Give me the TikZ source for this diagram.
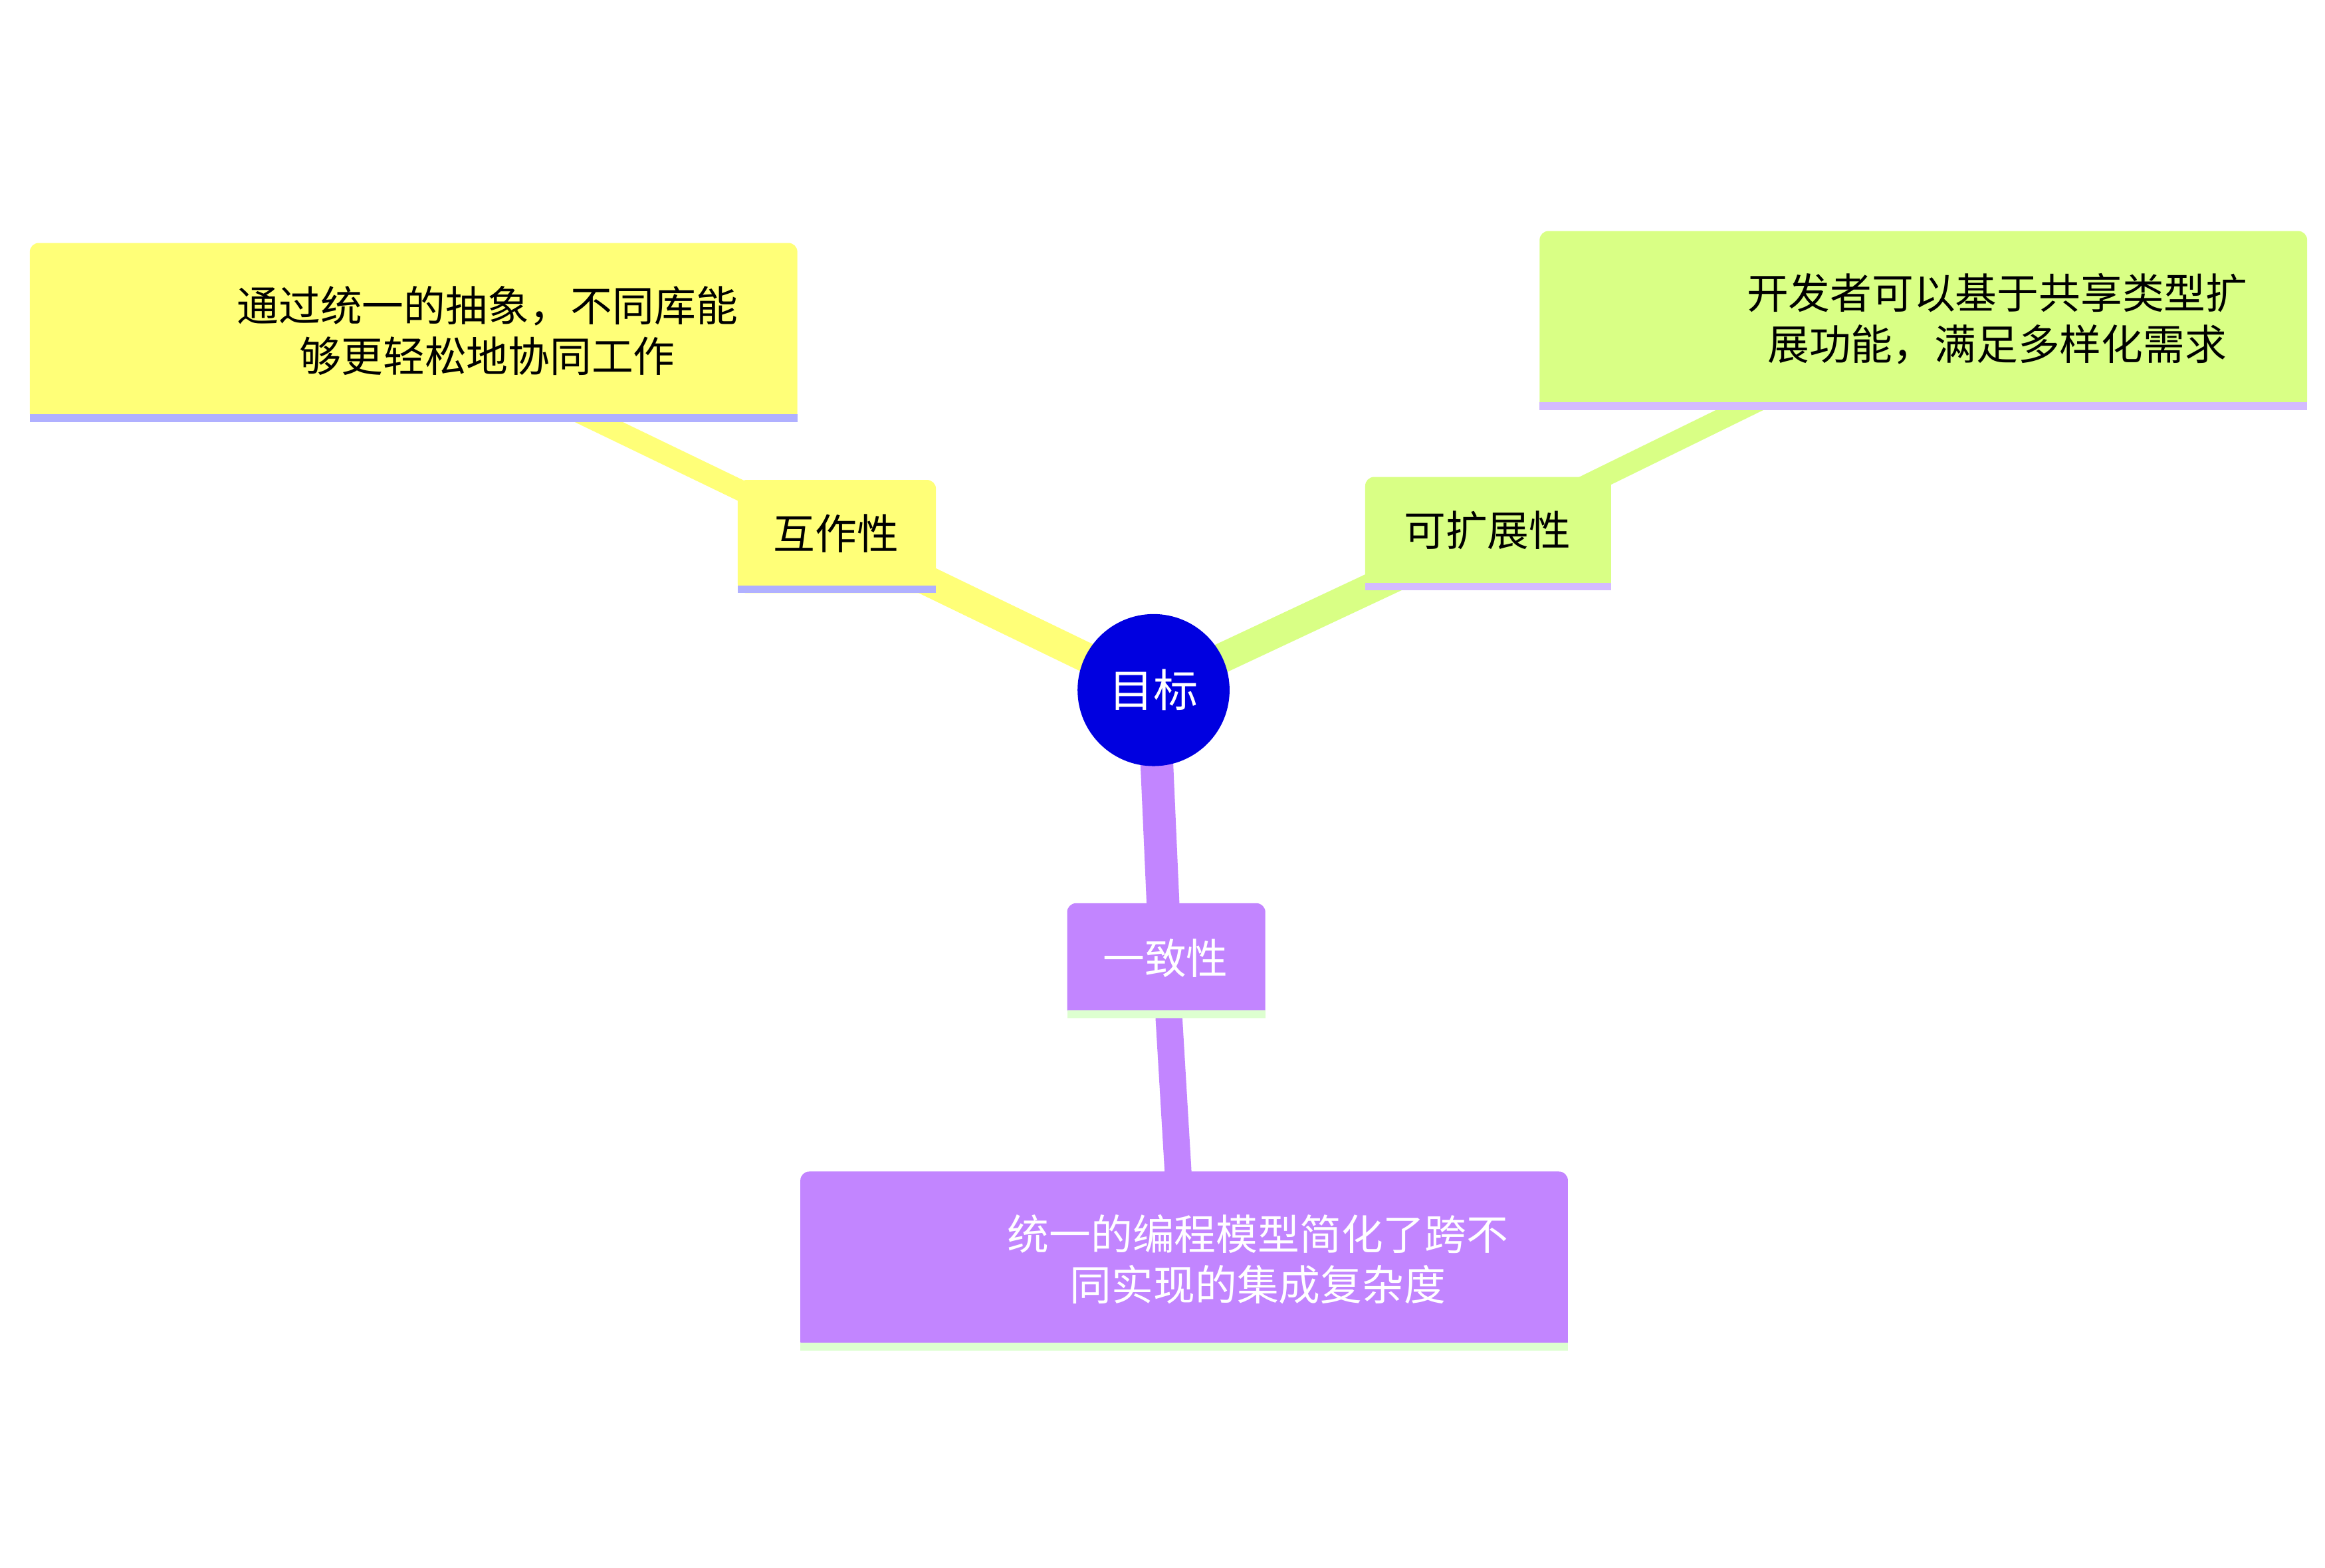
\documentclass[tikz,border=0pt]{standalone}
\usepackage{fontspec}
\setmainfont{Noto Sans CJK SC}
\definecolor{yel}{HTML}{FFFF78}
\definecolor{grn}{HTML}{D9FF85}
\definecolor{pur}{HTML}{C285FF}
\definecolor{lav}{HTML}{B0B0FF}
\definecolor{lav2}{HTML}{D4BBFF}
\definecolor{lgr}{HTML}{DDFFD0}
\definecolor{blu}{HTML}{0000E0}
\begin{document}
\begin{tikzpicture}[x=1pt,y=-1pt,
  lbl/.style={font=\fontsize{28}{34}\selectfont,align=center,inner sep=0},
  conn/.style={line width=#1,line cap=butt}]
\useasboundingbox[fill=white] (0,0) rectangle (1560,1052);
\coordinate (c) at (774,463);
\coordinate (a) at (561,360);
\coordinate (a2) at (277,223);
\coordinate (b) at (998,358);
\coordinate (b2) at (1290,215);
\coordinate (d) at (782,644);
\coordinate (d2) at (794,846);
% connectors
\draw[conn=14pt,yel] (a) -- (a2);
\draw[conn=20pt,yel] (c) -- (a);
\draw[conn=14pt,grn] (b) -- (b2);
\draw[conn=20pt,grn] (c) -- (b);
\draw[conn=22pt,pur] (c) -- (d);
\draw[conn=18pt,pur] (d) -- (d2);
% boxes
\fill[yel,rounded corners=6pt] (20,283) -- (20,163) -- (535,163) -- (535,283) -- cycle;
\fill[lav] (20,278) rectangle (535,283);
\fill[yel,rounded corners=6pt] (495,398) -- (495,322) -- (628,322) -- (628,398) -- cycle;
\fill[lav] (495,393) rectangle (628,398);
\fill[grn,rounded corners=6pt] (1033,275) -- (1033,155) -- (1548,155) -- (1548,275) -- cycle;
\fill[lav2] (1033,270) rectangle (1548,275);
\fill[grn,rounded corners=6pt] (916,396) -- (916,320) -- (1081,320) -- (1081,396) -- cycle;
\fill[lav2] (916,391) rectangle (1081,396);
\fill[pur,rounded corners=6pt] (716,683) -- (716,606) -- (849,606) -- (849,683) -- cycle;
\fill[lgr] (716,678) rectangle (849,683);
\fill[pur,rounded corners=6pt] (537,906) -- (537,786) -- (1052,786) -- (1052,906) -- cycle;
\fill[lgr] (537,901) rectangle (1052,906);
% nodes
\node[circle,fill=blu,minimum size=102pt,inner sep=0,text=white,font=\fontsize{30}{36}\selectfont] (goal) at (c) {目标};
\node[lbl] (na) at (561,358) {互作性};
\node[lbl] (na2) at (327,222) {通过统一的抽象，不同库能\\够更轻松地协同工作};
\node[lbl] (nb) at (998,356) {可扩展性};
\node[lbl] (nb2) at (1340,214) {开发者可以基于共享类型扩\\展功能，满足多样化需求};
\node[lbl,text=white] (nd) at (782,643) {一致性};
\node[lbl,text=white] (nd2) at (844,845) {统一的编程模型简化了跨不\\同实现的集成复杂度};
\end{tikzpicture}
\end{document}
